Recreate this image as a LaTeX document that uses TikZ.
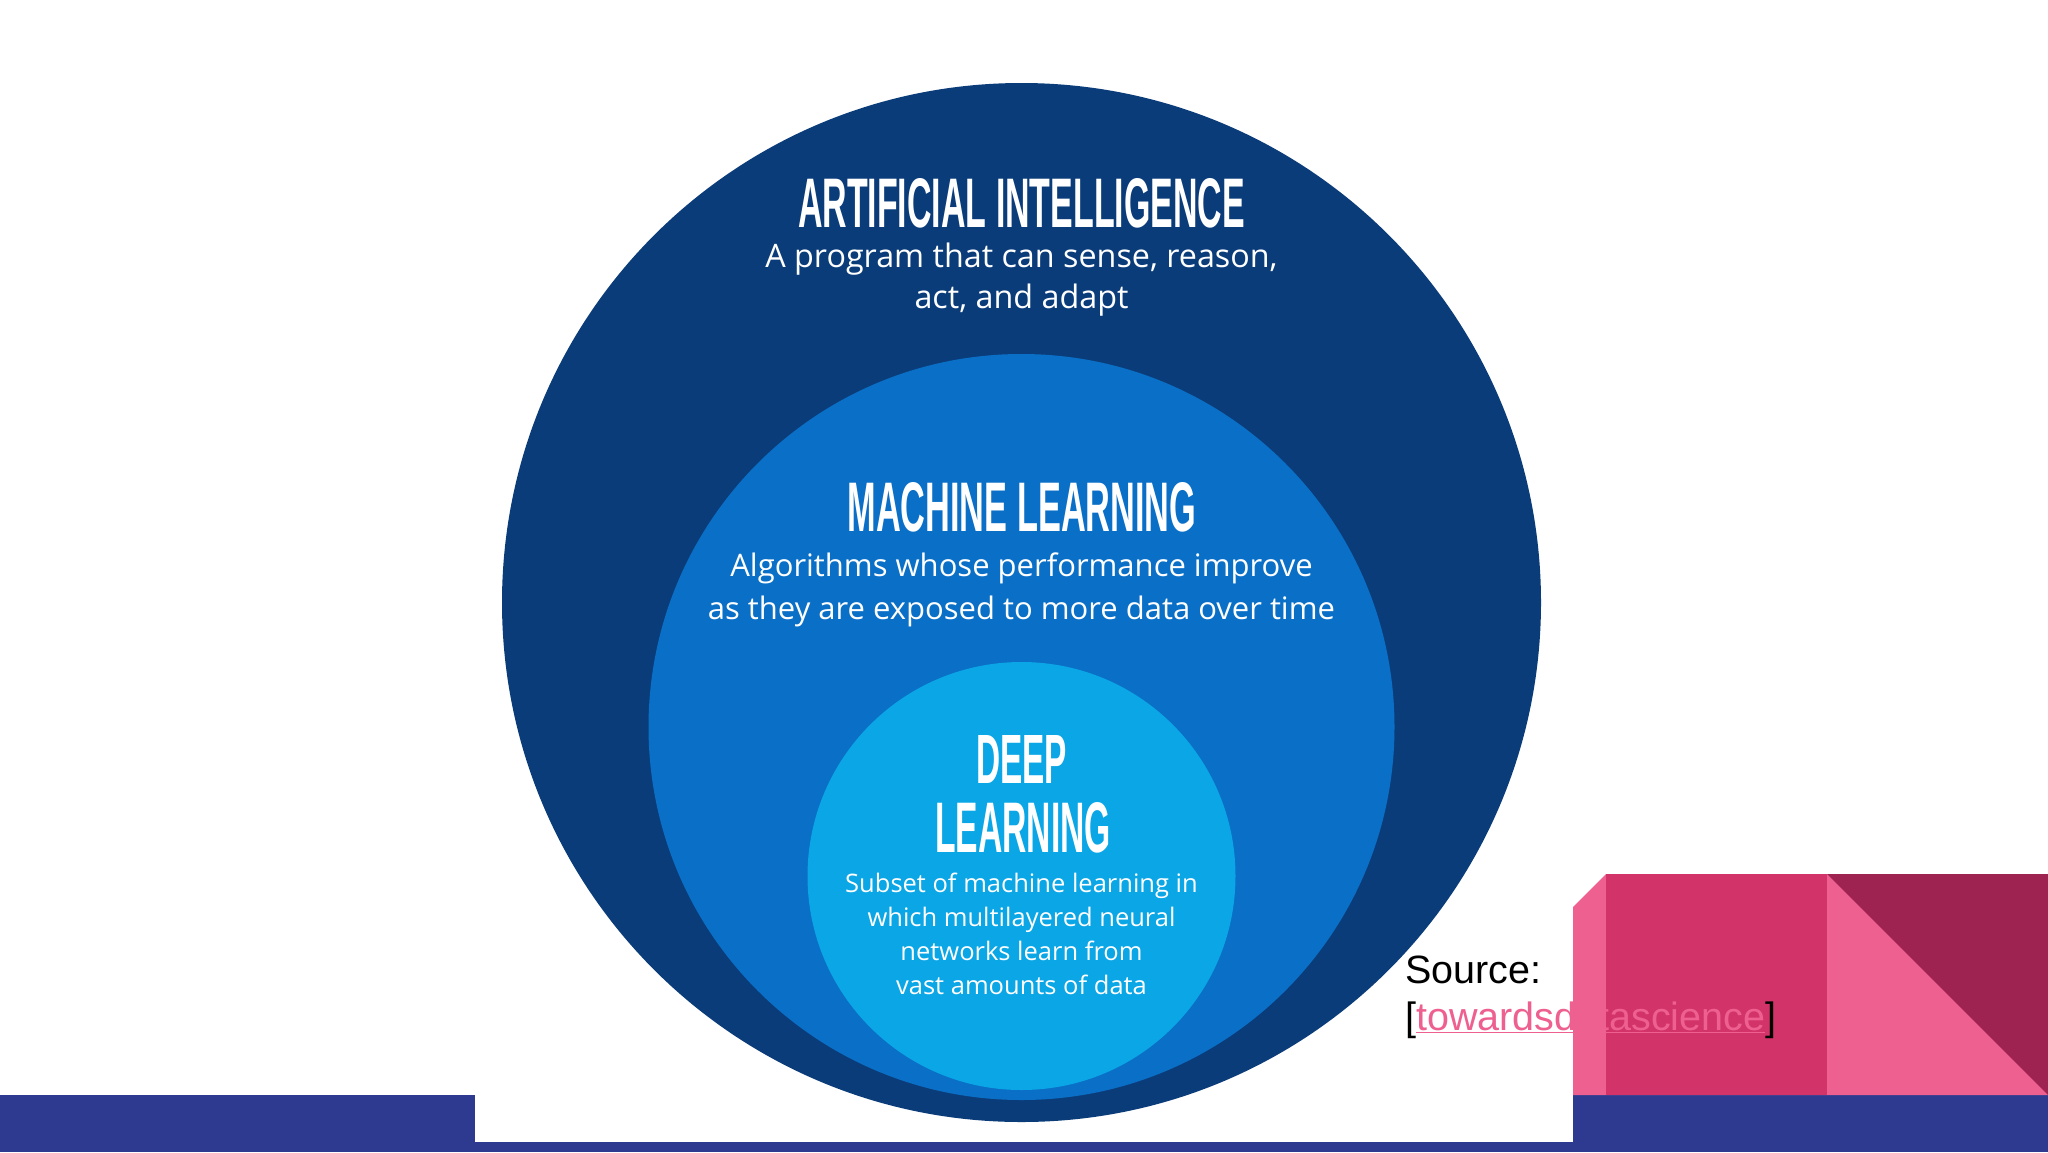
\documentclass[tikz,border=0pt]{standalone}
\usepackage{fontspec}
\usepackage{graphicx}
\setmainfont{Open Sans}
\newfontfamily\titlefont{Liberation Sans}
\newfontfamily\srcfont{Liberation Sans}

\definecolor{aiBlue}{HTML}{0B3C7A}
\definecolor{mlBlue}{HTML}{0A6FC6}
\definecolor{dlBlue}{HTML}{0AA6E6}
\definecolor{barBlue}{HTML}{2E3A8F}
\definecolor{pinkMain}{HTML}{D23368}
\definecolor{pinkLight}{HTML}{EE6090}
\definecolor{maroon}{HTML}{9E2350}

\newcommand\captitle[3]{\resizebox{#1pt}{#2pt}{\titlefont\bfseries #3}}

\tikzset{
  titletext/.style={text=white, inner sep=0pt, anchor=base},
  bodytext/.style={text=white, inner sep=0pt, align=center, anchor=base},
  srctext/.style={text=black, inner sep=0pt, align=left, anchor=base west,
    font=\srcfont\fontsize{39.5}{47}\selectfont},
}

\begin{document}
\begin{tikzpicture}[x=1pt,y=-1pt]

\useasboundingbox (0,0) rectangle (2048,1152);
\fill[white] (0,0) rectangle (2048,1152);

\fill[barBlue] (0,1095) rectangle (2048,1152);
\fill[white] (475,1095) rectangle (1573,1142);

\fill[aiBlue] (1021.5,602.5) circle (519.5);
\fill[mlBlue] (1021.5,727) circle (373);
\fill[dlBlue] (1021.5,876) circle (214);

\fill[pinkLight] (1573,907) -- (1606,874) -- (2048,874) -- (2048,1095) -- (1573,1095) -- cycle;
\fill[pinkMain] (1606,874) rectangle (1827,1095);
\fill[maroon] (1827,874) -- (2048,874) -- (2048,1095) -- cycle;

% base of a multi-line node sits on its last line
\node[titletext] at (1021.5,227) (aiTitle) {\captitle{447}{49}{ARTIFICIAL INTELLIGENCE}};
\node[bodytext, font=\fontsize{32.3}{41}\selectfont] at (1021.5,308) (aiText)
  {A program that can sense, reason,\\act, and adapt};

\node[titletext] at (1022,531) (mlTitle) {\captitle{349}{49}{MACHINE LEARNING}};
\node[bodytext, font=\fontsize{31}{43}\selectfont] at (1021.5,619) (mlText)
  {Algorithms whose performance improve\\as they are exposed to more data over time};

\node[titletext] at (1021.5,783) (dlTitleA) {\captitle{91}{48}{DEEP}};
\node[titletext] at (1023,852) (dlTitleB) {\captitle{176}{50}{LEARNING}};
\node[bodytext, font=\fontsize{25.5}{34}\selectfont] at (1021.5,994) (dlText)
  {Subset of machine learning in\\which multilayered neural\\networks learn from\\vast amounts of data};

\node[srctext] at (1405,1030) (source)
  {Source:\\{[}\textcolor{pinkLight}{\underline{towardsdatascience}}]};

\end{tikzpicture}
\end{document}
